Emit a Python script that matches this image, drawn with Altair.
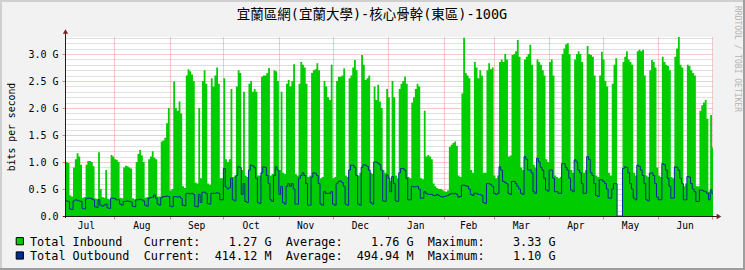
import altair as alt
import pandas as pd

TITLE = "宜蘭區網(宜蘭大學)-核心骨幹(東區)-100G"
Y_TITLE = "bits per second"
WATERMARK = "RRDTOOL / TOBI OETIKER"
START = "2024-07-04"

# daily averages in G bit/s (one row per week: Mon..Fri, Sat, Sun)
inbound_1 = [1.0, 1.0, 0.98, 0.38, 0.36,
    0.9, 1.05, 1.16, 1.1, 0.95, 0.34, 0.35,
    0.95, 1.02, 1.02, 1.0, 0.92, 0.33, 0.32,
    1.18, 0.5, 0.35, 0.34, 0.85, 0.32, 0.31,
    1.13, 1.1, 1.05, 1.04, 1.0, 0.34, 0.33,
    0.9, 0.93, 0.92, 0.9, 0.88, 0.33, 0.31,
    1.0, 1.15, 1.22, 1.12, 1.0, 0.34, 0.35,
    1.05, 1.1, 1.2, 1.08, 1.05, 0.36, 0.36,
    1.38, 1.4, 1.45, 1.72, 2.0, 0.47, 0.5,
    2.49, 2.0, 1.95, 2.12, 1.9, 0.55, 0.52,
    2.6, 2.72, 2.68, 2.62, 2.5, 0.62, 0.6,
    2.0, 0.7, 2.5, 2.7, 2.45, 0.6, 0.58,
    2.55, 2.4, 2.6, 2.75, 2.45, 0.7, 0.7,
    2.55, 1.05, 1.0, 1.05, 2.35, 0.72, 0.75]
inbound_2 = [
    2.4, 2.7, 2.65, 0.85, 2.3, 0.75, 0.72,
    2.45, 2.5, 2.3, 2.35, 2.3, 0.75, 0.75,
    2.58, 2.6, 2.6, 2.65, 2.74, 0.75, 0.78,
    2.7, 2.68, 2.5, 0.85, 2.3, 0.8, 0.78,
    2.45, 2.52, 2.4, 2.5, 2.81, 0.78, 0.75,
    2.45, 2.85, 2.8, 2.75, 2.45, 0.72, 0.75,
    2.65, 2.7, 2.72, 2.83, 2.7, 0.7, 0.72,
    2.5, 2.4, 2.2, 2.15, 2.8, 0.7, 0.72,
    2.5, 2.58, 2.58, 2.6, 2.73, 0.75, 0.72,
    2.55, 2.6, 2.75, 2.89, 2.7, 0.75, 0.8,
    2.98, 2.8, 2.52, 2.55, 2.6, 0.8, 0.78,
    2.4, 2.15, 2.43, 2.12, 2.0, 0.85, 0.8,
    2.35, 2.2, 0.65, 2.5, 2.2, 0.75, 0.7]
inbound_3 = [
    2.35, 2.45, 2.5, 2.58, 2.45, 0.72, 0.7,
    2.1, 2.2, 2.35, 2.45, 2.4, 0.7, 0.68,
    1.95, 1.1, 1.13, 1.1, 1.05, 0.6, 0.55,
    0.52, 0.5, 0.5, 0.48, 0.46, 0.45, 0.47,
    1.28, 1.32, 1.35, 1.38, 1.3, 0.75, 0.72,
    2.27, 3.3, 2.65, 2.6, 2.55, 0.85, 0.8,
    2.85, 2.75, 2.55, 2.7, 2.6, 0.8, 0.8,
    2.7, 2.83, 2.72, 2.75, 0.75, 0.7, 0.75,
    2.85, 2.9, 2.85, 3.0, 2.9, 1.1, 1.12,
    2.98, 3.0, 3.05, 3.26, 2.95, 0.9, 0.85,
    2.9, 2.95, 3.0, 3.17, 2.8, 0.95, 0.9,
    2.9, 2.85, 2.8, 2.7, 2.6, 1.05, 1.0,
    2.85, 2.9, 2.6, 0.75, 0.72, 0.7, 0.72]
inbound_4 = [
    3.0, 3.1, 3.18, 3.2, 3.0, 0.85, 0.8,
    2.9, 3.0, 3.05, 3.0, 2.85, 0.8, 0.85,
    3.15, 3.0, 2.98, 2.95, 2.6, 0.75, 0.72,
    2.6, 3.04, 2.9, 2.5, 2.4, 0.8, 0.75,
    2.45, 2.8, 2.92, 0.0, 0.0, 0.0, 2.85,
    2.95, 3.05, 2.9, 2.85, 2.8, 0.8, 0.75,
    3.05, 3.08, 3.05, 3.08, 2.6, 0.75, 0.72,
    2.7, 2.89, 2.85, 2.75, 0.9, 0.75, 0.72,
    2.95, 2.85, 2.8, 2.78, 2.7, 0.72, 0.7,
    2.95, 3.1, 3.33, 2.8, 2.75, 0.55, 0.6,
    2.8, 2.78, 2.7, 2.65, 2.6, 0.55, 0.55,
    1.95, 2.05, 2.1, 2.15, 1.8, 0.45, 1.87,
    1.27]

outbound_1 = [0.28, 0.28, 0.27, 0.13, 0.12,
    0.28, 0.3, 0.29, 0.28, 0.27, 0.14, 0.13,
    0.32, 0.33, 0.33, 0.32, 0.3, 0.17, 0.16,
    0.3, 0.2, 0.18, 0.2, 0.22, 0.15, 0.14,
    0.33, 0.33, 0.32, 0.3, 0.3, 0.22, 0.2,
    0.27, 0.27, 0.28, 0.27, 0.26, 0.18, 0.17,
    0.3, 0.3, 0.31, 0.3, 0.28, 0.2, 0.18,
    0.33, 0.34, 0.35, 0.39, 0.33, 0.22, 0.2,
    0.34, 0.36, 0.36, 0.37, 0.36, 0.18, 0.17,
    0.36, 0.36, 0.35, 0.36, 0.33, 0.2, 0.19,
    0.42, 0.42, 0.41, 0.42, 0.4, 0.18, 0.17,
    0.4, 0.25, 0.44, 0.44, 0.42, 0.23, 0.22,
    0.42, 0.42, 0.42, 0.43, 0.42, 0.3, 0.3,
    0.88, 0.54, 0.5, 0.52, 0.7, 0.3, 0.28]
outbound_2 = [
    0.75, 0.91, 0.9, 0.4, 0.6, 0.27, 0.25,
    0.85, 0.94, 0.93, 0.9, 0.7, 0.25, 0.23,
    0.8, 0.91, 0.9, 0.75, 0.6, 0.3, 0.27,
    0.75, 0.91, 0.85, 0.4, 0.55, 0.25, 0.22,
    0.55, 0.6, 0.55, 0.6, 0.5, 0.22, 0.22,
    0.7, 0.75, 0.8, 0.75, 0.6, 0.2, 0.2,
    0.72, 0.8, 0.79, 0.75, 0.6, 0.22, 0.2,
    0.45, 0.42, 0.42, 0.42, 0.45, 0.22, 0.2,
    0.6, 0.64, 0.65, 0.62, 0.55, 0.22, 0.2,
    0.85, 0.94, 0.94, 0.9, 0.75, 0.22, 0.2,
    0.9, 0.95, 0.94, 0.92, 0.85, 0.25, 0.22,
    1.0, 1.0, 0.98, 0.95, 0.85, 0.28, 0.27,
    0.76, 0.7, 0.45, 0.73, 0.6, 0.28, 0.27]
outbound_3 = [
    0.8, 0.88, 0.88, 0.85, 0.7, 0.3, 0.3,
    0.55, 0.54, 0.54, 0.55, 0.5, 0.33, 0.33,
    0.45, 0.42, 0.4, 0.4, 0.4, 0.38, 0.38,
    0.4, 0.38, 0.36, 0.35, 0.36, 0.37, 0.38,
    0.4, 0.42, 0.41, 0.42, 0.4, 0.35, 0.36,
    0.57, 0.57, 0.56, 0.55, 0.5, 0.4, 0.38,
    0.42, 0.42, 0.4, 0.4, 0.38, 0.25, 0.23,
    0.6, 0.6, 0.58, 0.55, 0.42, 0.4, 0.42,
    0.91, 0.85, 0.64, 0.62, 0.6, 0.42, 0.4,
    0.64, 0.64, 0.6, 0.55, 0.5, 0.42, 0.4,
    1.1, 1.05, 0.85, 0.85, 0.8, 0.45, 0.42,
    1.07, 1.0, 0.9, 0.85, 0.7, 0.48, 0.46,
    0.85, 0.85, 0.7, 0.45, 0.45, 0.42, 0.42]
outbound_4 = [
    0.97, 0.97, 0.9, 0.85, 0.7, 0.48, 0.45,
    1.04, 1.0, 0.85, 0.8, 0.6, 0.42, 0.42,
    1.1, 1.05, 0.8, 0.75, 0.6, 0.38, 0.36,
    0.67, 0.67, 0.64, 0.6, 0.5, 0.33, 0.33,
    0.5, 0.6, 0.6, 0.0, 0.0, 0.0, 0.88,
    0.91, 0.9, 0.8, 0.6, 0.5, 0.33, 0.3,
    0.94, 0.92, 0.85, 0.75, 0.6, 0.3, 0.28,
    0.79, 0.8, 0.75, 0.6, 0.35, 0.3, 0.3,
    0.97, 0.95, 0.85, 0.7, 0.55, 0.33, 0.33,
    0.91, 0.9, 0.85, 0.7, 0.6, 0.3, 0.3,
    0.73, 0.72, 0.6, 0.5, 0.45, 0.27, 0.27,
    0.48, 0.48, 0.46, 0.45, 0.42, 0.3, 0.48,
    0.414]

month_names = ["Jul", "Aug", "Sep", "Oct", "Nov", "Dec",
               "Jan", "Feb", "Mar", "Apr", "May", "Jun"]
month_mid = ["2024-07-16T12:00:00", "2024-08-16T12:00:00", "2024-09-16T00:00:00",
             "2024-10-16T12:00:00", "2024-11-16T00:00:00", "2024-12-16T12:00:00",
             "2025-01-16T12:00:00", "2025-02-15T00:00:00", "2025-03-16T12:00:00",
             "2025-04-16T00:00:00", "2025-05-16T12:00:00", "2025-06-16T00:00:00"]
month_starts = [(2024, 8), (2024, 9), (2024, 10), (2024, 11), (2024, 12), (2025, 1),
                (2025, 2), (2025, 3), (2025, 4), (2025, 5), (2025, 6), (2025, 7)]
y_ticks = [0.0, 0.1, 0.2, 0.3, 0.4, 0.5, 0.6, 0.7, 0.8, 0.9, 1.0, 1.1, 1.2, 1.3, 1.4,
           1.5, 1.6, 1.7, 1.8, 1.9, 2.0, 2.1, 2.2, 2.3, 2.4, 2.5, 2.6, 2.7, 2.8, 2.9,
           3.0, 3.1, 3.2, 3.3]

legend_names = ["Total Inbound", "Total Outbound"]
legend_current = ["1.27 G", "414.12 M"]
legend_average = ["1.76 G", "494.94 M"]
legend_maximum = ["3.33 G", "1.10 G"]
legend_colors = ["#00CC00", "#002A97"]

inbound = inbound_1 + inbound_2 + inbound_3 + inbound_4
outbound = outbound_1 + outbound_2 + outbound_3 + outbound_4

dates = pd.date_range(START, periods=len(inbound) + 1, freq="D")
df = pd.DataFrame({
    "date": dates.strftime("%Y-%m-%dT%H:%M:%S"),
    "inbound": inbound + [inbound[-1]],
    "outbound": outbound + [outbound[-1]],
})

MONO = "DejaVu Sans Mono"
NB = "\u00a0"
W, H = 648, 179

x_scale = alt.Scale(domain=[alt.DateTime(year=2024, month=7, date=4, hours=12),
                            alt.DateTime(year=2025, month=7, date=1, hours=14)])
x_axis = alt.Axis(values=[alt.DateTime(year=y, month=m, date=1) for y, m in month_starts],
                  grid=True, gridColor="#DE4F4F", gridOpacity=0.6, gridDash=[1, 1],
                  ticks=True, tickColor="#DE4F4F", tickOpacity=0.7, tickSize=3,
                  labels=False, domain=False, title=None)
MAJOR = "abs(datum.value * 2 - round(datum.value * 2)) < 0.001"
label_expr = (MAJOR + " ? (datum.value < 0.001 ? '0.0" + NB + NB + "' : format(datum.value, '.1f') + '"
              + NB + "G') : ''")
y_scale = alt.Scale(domain=[0, 3.315], nice=False, zero=True)
y_axis = alt.Axis(values=y_ticks, title=Y_TITLE, titleFont=MONO, titleFontSize=9.8,
                  titleFontWeight="normal", titleColor="#000000", titleAngle=270,
                  titleX=-54, titleY=H / 2, titleAlign="center", titleBaseline="middle",
                  labelExpr=label_expr, labelFont=MONO, labelFontSize=10, labelColor="#000000",
                  labelPadding=4, labelOverlap=False, labelBound=False, labelFlush=False,
                  grid=True,
                  gridColor={"condition": {"test": MAJOR, "value": "#DE4F4F"}, "value": "#8F8F8F"},
                  gridOpacity={"condition": {"test": MAJOR, "value": 0.6}, "value": 0.55},
                  gridDash=[1, 1], ticks=True, tickSize=3, tickColor="#DE4F4F",
                  tickOpacity={"condition": {"test": MAJOR, "value": 0.7}, "value": 0},
                  domain=False)

base = alt.Chart(df)
inbound_area = base.mark_area(interpolate="step-after", color="#00CC00", clip=True).encode(
    x=alt.X("date:T", scale=x_scale, axis=x_axis),
    y=alt.Y("inbound:Q", scale=y_scale, axis=y_axis),
)
outbound_line = base.mark_line(interpolate="step-after", color="#002A97", strokeWidth=1,
                               clip=True).encode(
    x=alt.X("date:T", scale=x_scale, axis=x_axis),
    y=alt.Y("outbound:Q", scale=y_scale, axis=y_axis),
)

one = pd.DataFrame({"t": [""]})

def hrule(yv, x1, x2, color, width=1):
    return alt.Chart(one).mark_rule(color=color, strokeWidth=width).encode(
        y=alt.value(yv), x=alt.value(x1), x2=alt.value(x2))

def vrule(xv, y1, y2, color, width=1):
    return alt.Chart(one).mark_rule(color=color, strokeWidth=width).encode(
        x=alt.value(xv), y=alt.value(y1), y2=alt.value(y2))

frame = [
    hrule(-36, -65, 680, "#CFCFCF", 2),
    vrule(-64, -37, 233, "#CFCFCF", 2),
    hrule(232, -65, 680, "#9E9E9E", 2),
    vrule(679, -37, 233, "#9E9E9E", 2),
]
axes_lines = [
    vrule(0.5, -4, 181, "#1F1F1F"),
    hrule(179.5, -2, 653, "#1F1F1F"),
]
arrow_up = alt.Chart(one).mark_point(shape="triangle-up", filled=True, size=28,
                                     color="#801F1F", opacity=1).encode(
    x=alt.value(0.5), y=alt.value(-5.5))
arrow_right = alt.Chart(one).mark_point(shape="triangle-right", filled=True, size=28,
                                        color="#801F1F", opacity=1).encode(
    x=alt.value(654), y=alt.value(179.5))

months_df = pd.DataFrame({"date": month_mid, "name": month_names})
month_labels = alt.Chart(months_df).mark_text(font=MONO, fontSize=9.6, color="#000000",
                                              baseline="middle", align="center").encode(
    x=alt.X("date:T", scale=x_scale), y=alt.value(189), text="name:N")

title = alt.Chart(pd.DataFrame({"t": [TITLE]})).mark_text(
    font=MONO + ", Noto Sans CJK TC", fontSize=13.5, color="#000000",
    align="center", baseline="middle").encode(x=alt.value(307), y=alt.value(-22.5), text="t:N")

watermark = alt.Chart(pd.DataFrame({"t": [WATERMARK]})).mark_text(
    font=MONO, fontSize=8, color="#B4B4B4", angle=90, align="center",
    baseline="middle").encode(x=alt.value(672), y=alt.value(22), text="t:N")

legend_layers = []
row_y = [204.7, 219.0]
for i in range(2):
    row = (f"{legend_names[i]:<16}Current:{legend_current[i]:>10}  "
           f"Average:{legend_average[i]:>10}  Maximum:{legend_maximum[i]:>10}")
    row = row.replace(" ", NB)
    legend_layers.append(alt.Chart(pd.DataFrame({"t": [row]})).mark_text(
        font=MONO, fontSize=11.8, color="#000000", align="left", baseline="middle").encode(
        x=alt.value(-35), y=alt.value(row_y[i]), text="t:N"))
    legend_layers.append(alt.Chart(one).mark_square(size=52, color=legend_colors[i],
                                                     stroke="#000000", strokeWidth=1,
                                                     opacity=1).encode(
        x=alt.value(-45.2), y=alt.value(row_y[i] - 0.5)))

chart = alt.layer(
    *frame, inbound_area, outbound_line, *axes_lines, arrow_up, arrow_right,
    month_labels, title, watermark, *legend_layers
).properties(
    width=W, height=H,
    autosize=alt.AutoSizeParams(type="none"),
    padding={"left": 65, "top": 37, "right": 32, "bottom": 54},
    background="#F2F2F2",
).configure_view(stroke=None, fill="#FFFFFF")

chart.save("out.html", embed_options={"renderer": "svg", "actions": False})
